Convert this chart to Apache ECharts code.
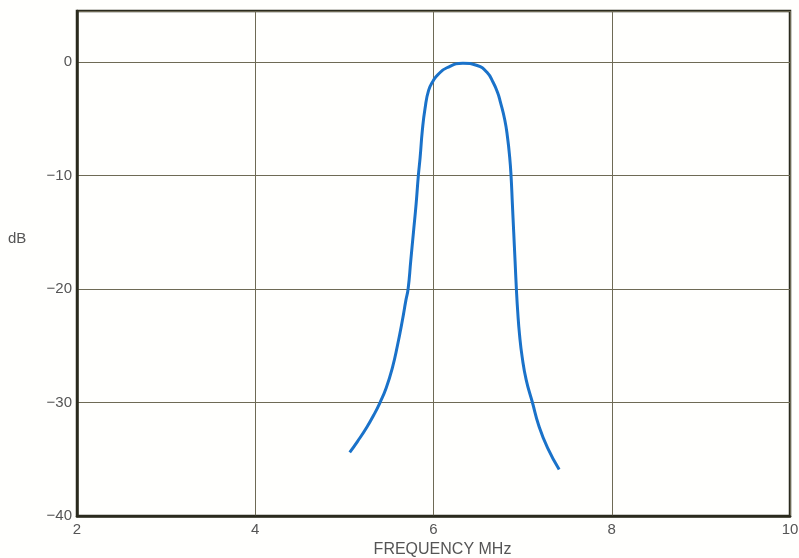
<!DOCTYPE html>
<html>
<head>
<meta charset="utf-8">
<script src="https://cdn.jsdelivr.net/npm/echarts@6/dist/echarts.min.js"></script>
<style>
  html, body { margin: 0; padding: 0; background: #fffffd; }
  #chart { width: 799px; height: 558px; }
</style>
</head>
<body>
<div id="chart"></div>
<script>
// Band-pass filter response: frequency (MHz) vs attenuation (dB)
const freqMHz = [5.06, 5.15, 5.25, 5.33, 5.40, 5.47, 5.54, 5.595, 5.65, 5.69, 5.715, 5.745, 5.775, 5.805, 5.83, 5.85, 5.875, 5.905, 5.945, 6.00, 6.05, 6.15, 6.33, 6.49, 6.60, 6.67, 6.72, 6.75, 6.80, 6.83, 6.855, 6.87, 6.885, 6.90, 6.915, 6.93, 6.945, 6.965, 6.995, 7.04, 7.11, 7.18, 7.28, 7.41];
const responseDb = [-34.4, -33.4, -32.2, -31.1, -30.0, -28.7, -26.9, -25.0, -22.8, -21.0, -20.0, -17.5, -15.0, -12.5, -10.0, -8.4, -6.0, -4.1, -2.5, -1.6, -1.1, -0.5, -0.1, -0.3, -0.9, -1.8, -2.7, -3.5, -5.1, -6.6, -8.4, -10.0, -12.5, -15.0, -17.5, -20.0, -22.0, -24.0, -26.0, -28.0, -30.0, -32.0, -34.0, -35.9];
const xTicks = [2, 4, 6, 8, 10];
const yTicks = [-40, -30, -20, -10, 0];

const points = freqMHz.map((f, i) => [f, responseDb[i]]);
const fontFamily = 'Liberation Sans, Arial, sans-serif';
const labelFont = { color: '#555', fontSize: 15, fontFamily: fontFamily };
const fmtDb = v => (v < 0 ? '\u2212' + Math.abs(v) : String(v));

const chart = echarts.init(document.getElementById('chart'));
chart.setOption({
  backgroundColor: '#fffffd',
  animation: false,
  grid: {
    left: 77, right: 9, top: 11, bottom: 42,
    outerBoundsMode: 'none',
    show: true, borderColor: '#2b2b1e', borderWidth: 2.5
  },
  xAxis: {
    type: 'value',
    min: xTicks[0], max: xTicks[xTicks.length - 1], interval: 2,
    name: 'FREQUENCY MHz', nameLocation: 'middle', nameGap: 26,
    nameTextStyle: { color: '#555', fontSize: 16, fontFamily: fontFamily, padding: [0, 0, 0, 18] },
    axisLine: { show: true, onZero: false, lineStyle: { color: '#2b2b1e', width: 2.5 } },
    axisTick: { show: false },
    axisLabel: Object.assign({ margin: 6 }, labelFont),
    splitLine: { show: true, lineStyle: { color: '#6e6a55', width: 1 } }
  },
  yAxis: {
    type: 'value',
    min: yTicks[0], max: 4.5, interval: 10,
    axisLine: { show: true, onZero: false, lineStyle: { color: '#2b2b1e', width: 2.5 } },
    axisTick: { show: false },
    axisLabel: Object.assign({ margin: 5, showMaxLabel: false, formatter: fmtDb }, labelFont),
    splitLine: { show: true, lineStyle: { color: '#6e6a55', width: 1 } }
  },
  graphic: [{
    type: 'text', left: 8, top: 231,
    style: { text: 'dB', fill: '#555', font: '15px ' + fontFamily }
  }],
  series: [{
    type: 'line',
    data: points,
    smooth: 0.5,
    showSymbol: false,
    lineStyle: { color: '#1a72c9', width: 3 },
    z: 3
  }]
});
</script>
</body>
</html>
